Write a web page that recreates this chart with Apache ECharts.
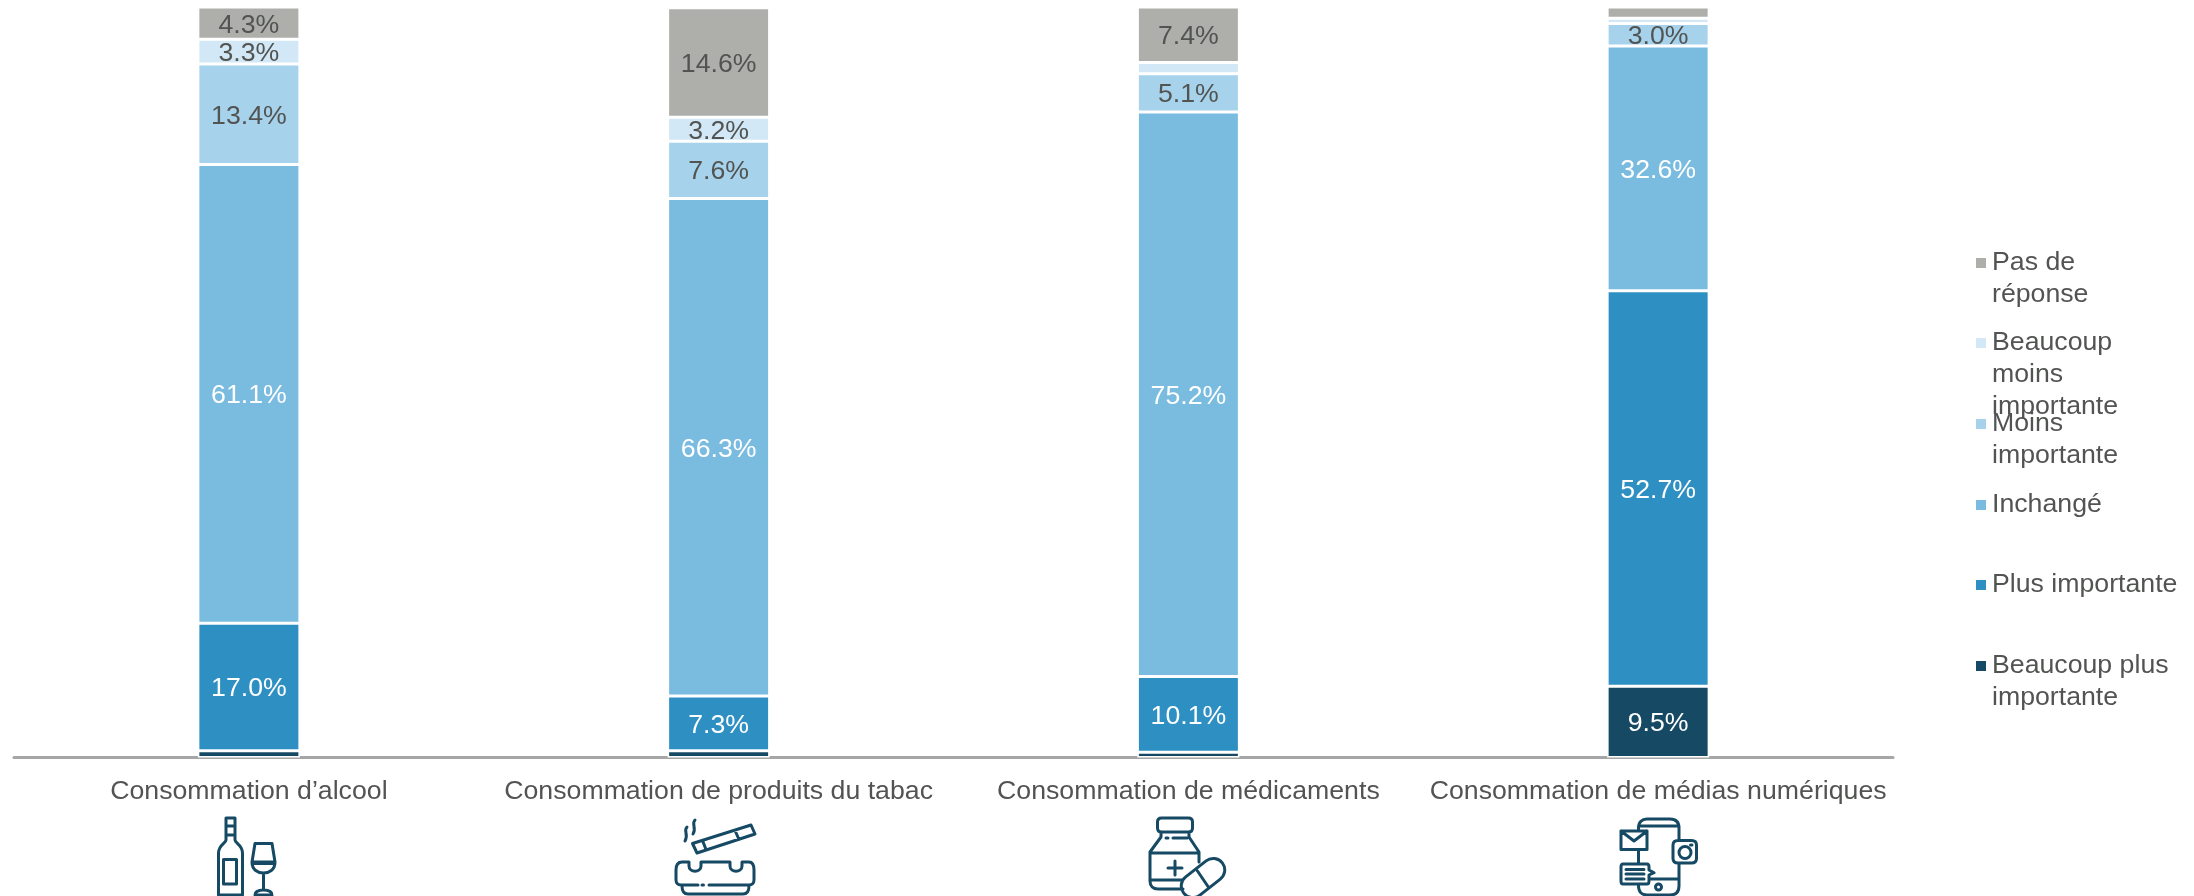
<!DOCTYPE html>
<html>
<head>
<meta charset="utf-8">
<style>
  html, body { margin: 0; padding: 0; background: #fff; }
  #main { width: 2194px; height: 896px; }
</style>
<script src="https://cdn.jsdelivr.net/npm/echarts@6/dist/echarts.min.js"></script>
</head>
<body>
<div id="main"></div>
<script>
var categories = ['Consommation d’alcool', 'Consommation de produits du tabac', 'Consommation de médicaments', 'Consommation de médias numériques'];
var beaucoupPlus = [0.9, 0.9, 0.7, 9.5];
var plusImportante = [17.0, 7.3, 10.1, 52.7];
var inchange = [61.1, 66.3, 75.2, 32.6];
var moinsImportante = [13.4, 7.6, 5.1, 3.0];
var beaucoupMoins = [3.3, 3.2, 1.5, 0.7];
var pasDeReponse = [4.3, 14.6, 7.4, 1.5];

var textColor = '#525452';
var iconColor = '#164963';
var fontFamily = '"Liberation Sans", Arial, sans-serif';
var fontSize = 26.7;

// pictos sous les categories, dessines dans une boite de 100x86
var wineIcon = 'M26 8H35V30C35 33 42.5 35 42.5 43V85H18.5V43C18.5 35 26 33 26 30ZM26 16H35M26 25H35M23.5 49.5H36.5V74H23.5Z' +
  'M55 33.5H72L75 52C75 60 69 63 63.5 63C58 63 52 60 52 52ZM52 52H75M52 53.5H75M63.5 63V80M55 85C55 81 59 80 63.5 80C68 80 72 81 72 85Z';
var ashtrayIcon = 'M27.5 33.5L32 43L90 24L86 15ZM37.5 30.5L41 39.5M70 20.5L74 29.5M22 17C18 21 24 24 20 31M30 10C26 14 32 18 28 24' +
  'M33 75H16C13 75 11 73 11 70V60C11 55 13 52 17 52H24V56C24 63 36 63 36 56V52H65V56C65 63 77 63 77 56V52H84C87 52 89 55 89 60V70C89 73 87 75 84 75H44M37 75H38.5' +
  'M17 76C17 81 19 84 23 84H78C82 84 84 81 84 76';
var pillsIcon = 'M26.5 8H53.5C56 8 57.5 9.5 57.5 12V18C57.5 20.5 56 22 53.5 22H26.5C24 22 22.5 20.5 22.5 18V12C22.5 9.5 24 8 26.5 8Z' +
  'M26 22V27L15 42V71C15 76 18 79 23 79H48M54 22V27L64 42V52M15 43H64M15 70H47M31 28H33M38 28H52M40 51V65M33 58H47' +
  'M85.3 69.1L64.9 85.1A11.5 11.5 0 0 1 50.7 66.9L71.1 50.9A11.5 11.5 0 0 1 85.3 69.1ZM62.5 61L74 78';
var phoneIcon = 'M33.5 21V18C33.5 12 37 9 42 9H65C71 9 74 12 74 18V30M74 53V76C74 82 71 85 65 85H42C37 85 33.5 82 33.5 76V74M33.5 40V54M33.5 16H74M44 69H74' +
  'M16 21H42V39.5H16ZM16 21L29 31L42 21M18 54H42C43.5 54 44 55 44 57V60L49 62.7L44 65V71C44 73 43.5 74 42 74H18C16.5 74 16 73 16 71V57C16 55 16.5 54 18 54ZM21 59.5H39M21 64H39M21 69H39' +
  'M73 30.5H86.5C90 30.5 91.5 32 91.5 35V48.5C91.5 51.5 90 53 86.5 53H73C70 53 68 51.5 68 48.5V35C68 32 70 30.5 73 30.5Z' +
  'M86 42.5A6 6 0 1 1 74 42.5A6 6 0 1 1 86 42.5ZM85.5 35H87M56.5 77A3 3 0 1 1 50.5 77A3 3 0 1 1 56.5 77Z';

// le composant graphic n'a pas de type path, on enregistre chaque picto
echarts.graphic.registerShape('wineIcon', echarts.graphic.extendPath(wineIcon));
echarts.graphic.registerShape('ashtrayIcon', echarts.graphic.extendPath(ashtrayIcon));
echarts.graphic.registerShape('pillsIcon', echarts.graphic.extendPath(pillsIcon));
echarts.graphic.registerShape('phoneIcon', echarts.graphic.extendPath(phoneIcon));

function makeIcon(type, x) {
  return {
    type: type,
    x: x,
    y: 810,
    silent: true,
    style: { fill: 'none', stroke: iconColor, lineWidth: 3, lineJoin: 'round', lineCap: 'round' }
  };
}

function makeSeries(name, values, color, labelColor) {
  return {
    name: name,
    type: 'bar',
    stack: 'total',
    barWidth: 102,
    data: values,
    itemStyle: { color: color, borderColor: '#fff', borderWidth: 1.5 },
    label: {
      show: true,
      position: 'inside',
      offset: [0, 2],
      color: labelColor,
      fontSize: fontSize,
      fontFamily: fontFamily,
      formatter: function (p) {
        // les petits segments n'ont pas d'etiquette
        return p.value < 3 ? '' : p.value.toFixed(1) + '%';
      }
    }
  };
}

// blank lines above the text so the legend square sits on the first line
function makeLegend(name, text, centerY) {
  var lines = text.split('\n');
  var blanks = new Array(lines.length).join('\n');
  var lineHeight = 32;
  return {
    data: [name],
    left: 1974,
    top: centerY - (lines.length * 2 - 1) * lineHeight / 2,
    orient: 'vertical',
    itemWidth: 12,
    itemHeight: 12,
    icon: 'rect',
    selectedMode: false,
    padding: 0,
    formatter: function () { return blanks + text; },
    textStyle: { color: textColor, fontSize: fontSize, fontFamily: fontFamily, lineHeight: lineHeight }
  };
}

var myChart = echarts.init(document.getElementById('main'));
myChart.setOption({
  animation: false,
  backgroundColor: '#fff',
  grid: { left: 14, right: 301, top: 7, bottom: 138.5 },
  xAxis: {
    type: 'category',
    data: categories,
    axisTick: { show: false },
    axisLine: { lineStyle: { color: '#a6a6a6', width: 3 } },
    axisLabel: { interval: 0, color: textColor, fontSize: fontSize, fontFamily: fontFamily, margin: 21 }
  },
  yAxis: { type: 'value', min: 0, max: 100, show: false },
  legend: [
    makeLegend('Pas de réponse', 'Pas de\nréponse', 263),
    makeLegend('Beaucoup moins importante', 'Beaucoup\nmoins\nimportante', 343),
    makeLegend('Moins importante', 'Moins\nimportante', 424),
    makeLegend('Inchangé', 'Inchangé', 505),
    makeLegend('Plus importante', 'Plus importante', 585),
    makeLegend('Beaucoup plus importante', 'Beaucoup plus\nimportante', 666)
  ],
  series: [
    makeSeries('Beaucoup plus importante', beaucoupPlus, '#164963', '#fff'),
    makeSeries('Plus importante', plusImportante, '#2e8fc2', '#fff'),
    makeSeries('Inchangé', inchange, '#7abbe0', '#fff'),
    makeSeries('Moins importante', moinsImportante, '#a6d2eb', textColor),
    makeSeries('Beaucoup moins importante', beaucoupMoins, '#d2e8f6', textColor),
    makeSeries('Pas de réponse', pasDeReponse, '#aeafaa', textColor)
  ],
  graphic: [
    makeIcon('wineIcon', 200),
    makeIcon('ashtrayIcon', 665),
    makeIcon('pillsIcon', 1135),
    makeIcon('phoneIcon', 1605)
  ]
});
</script>
</body>
</html>
